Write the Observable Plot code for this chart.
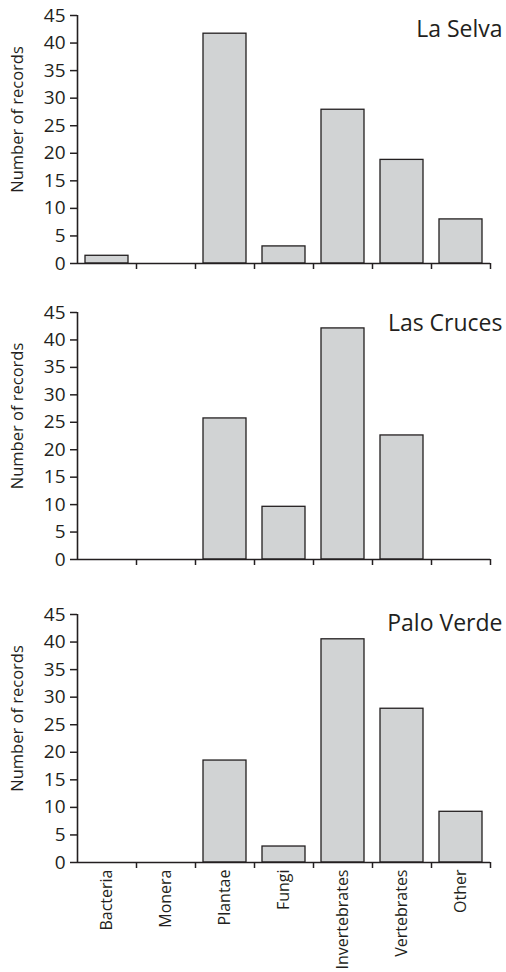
<!DOCTYPE html>
<html>
<head>
<meta charset="utf-8">
<script src="https://cdn.jsdelivr.net/npm/d3@7"></script>
<script src="https://cdn.jsdelivr.net/npm/@observablehq/plot@0.6"></script>
<style>
  html, body { margin: 0; padding: 0; background: #fff; }
  #chart { width: 506px; }
  #chart svg { display: block; }
</style>
</head>
<body>
<div id="chart"></div>
<script>
// ---- data ----
const categories = ["Bacteria", "Monera", "Plantae", "Fungi", "Invertebrates", "Vertebrates", "Other"];
const laSelva   = [1.4, 0, 41.7, 3.1, 27.9, 18.8, 8.0];
const lasCruces = [0, 0, 25.7, 9.6, 42.1, 22.6, 0];
const paloVerde = [0, 0, 18.5, 2.9, 40.5, 27.9, 9.2];
const panelTitles = ["La Selva", "Las Cruces", "Palo Verde"];
const yTicks = [0, 5, 10, 15, 20, 25, 30, 35, 40, 45];
const yLabel = "Number of records";

// ---- style / layout ----
const FONT = "'Open Sans', sans-serif";
const INK = "#231f20";
const FILL = "#d1d3d4";
const W = 506, ML = 77, MR = 16;
const bw = (W - ML - MR) / categories.length;

const layouts = [
  {height: 290, mt: 15, mb: 27, titleDy: 14, labels: false},
  {height: 300, mt: 22, mb: 31, titleDy: 11, labels: false},
  {height: 382, mt: 24, mb: 110, titleDy: 9, labels: true}
];

function panel(values, title, L) {
  const data = categories.map((c, i) => ({category: c, value: values[i]})).filter(d => d.value > 0);
  const marks = [
    Plot.barY(data, {x: "category", y: "value", fill: FILL, stroke: INK, strokeWidth: 1.3, insetLeft: 8, insetRight: 8}),
    Plot.axisY({ticks: yTicks, tickSize: 7, tickFormat: () => "", label: null, strokeWidth: 1.5}),
    Plot.text(yTicks, {y: d => d, frameAnchor: "left", textAnchor: "end", lineAnchor: "middle", dx: -12, fontSize: 19, fill: INK}),
    Plot.ruleX([categories[0]], {dx: -bw / 2, stroke: INK, strokeWidth: 1.6}),
    Plot.ruleY([0], {stroke: INK, strokeWidth: 1.6}),
    Plot.axisX({ticks: categories, tickSize: 6, tickFormat: () => "", label: null, dx: bw / 2, strokeWidth: 1.5}),
    Plot.text([title], {frameAnchor: "top-right", textAnchor: "end", lineAnchor: "middle", dx: 12, dy: L.titleDy, fontSize: 23, fill: INK}),
    Plot.text([yLabel], {frameAnchor: "left", textAnchor: "middle", lineAnchor: "middle", rotate: -90, dx: -59.5, dy: -20, fontSize: 16.5, fill: INK})
  ];
  if (L.labels) {
    marks.push(Plot.text(categories, {x: d => d, frameAnchor: "bottom", rotate: -90, textAnchor: "end", lineAnchor: "middle", dy: 7, fontSize: 16, fill: INK}));
  }
  return Plot.plot({
    width: W, height: L.height,
    marginLeft: ML, marginRight: MR, marginTop: L.mt, marginBottom: L.mb,
    style: {fontFamily: FONT, fontSize: "17px", color: INK, background: "white", overflow: "visible"},
    x: {domain: categories, padding: 0, axis: null},
    y: {domain: [0, 45], axis: null},
    marks
  });
}

const el = document.getElementById("chart");
[laSelva, lasCruces, paloVerde].forEach((v, i) => el.appendChild(panel(v, panelTitles[i], layouts[i])));
</script>
</body>
</html>
